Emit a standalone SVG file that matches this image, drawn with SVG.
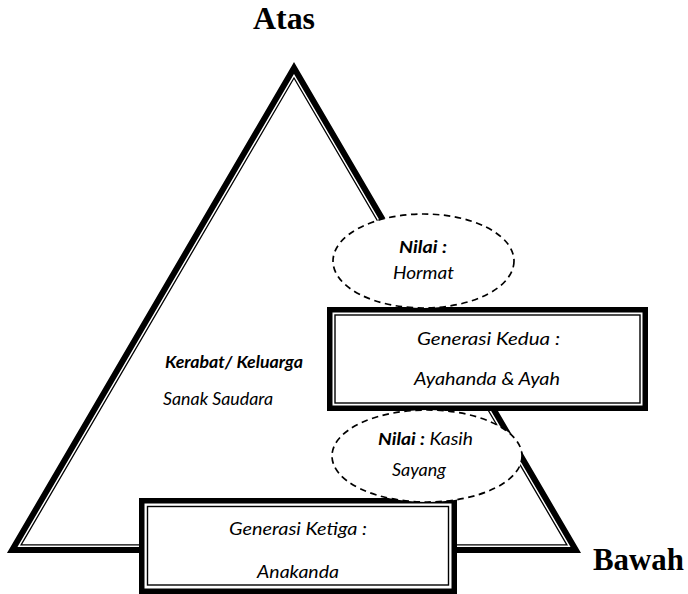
<svg xmlns="http://www.w3.org/2000/svg" width="688" height="594" viewBox="0 0 688 594">
<style>
.t{font-family:Lato,"Open Sans",sans-serif;font-style:italic;font-size:17.5px;fill:#000}
.b{font-weight:bold}
.h{font-family:"Liberation Serif","Times New Roman",serif;font-weight:bold;fill:#000}
.thick{fill:#fff;stroke:#000;stroke-width:6;stroke-linejoin:miter}
.thin{fill:none;stroke:#000;stroke-width:1.3}
.bx{fill:#fff;stroke:#000;stroke-width:5.5}
.bxi{fill:none;stroke:#000;stroke-width:1.4}
.el{fill:#fff;stroke:#000;stroke-width:1.7;stroke-dasharray:6.5 4.5}
</style>
<rect width="688" height="594" fill="#fff"/>
<g id="triangle">
<polygon class="thick" points="294,67.9 12.2,550 575.8,550"/>
<polygon class="thin" points="294,78 21.1,544.9 566.9,544.9"/>
</g>
<g id="connectors"></g>
<g id="label-atas"><text class="h" x="253" y="29" font-size="32" textLength="62" lengthAdjust="spacingAndGlyphs">Atas</text></g>
<g id="label-bawah"><text class="h" x="593" y="570" font-size="30.5" textLength="91" lengthAdjust="spacingAndGlyphs">Bawah</text></g>
<g id="kerabat">
<text class="t b" x="165" y="368" textLength="138" lengthAdjust="spacingAndGlyphs">Kerabat/ Keluarga</text>
<text class="t" x="163" y="405" textLength="110" lengthAdjust="spacingAndGlyphs">Sanak Saudara</text>
</g>
<g id="gen2">
<rect class="bx" x="329.75" y="309.75" width="315.5" height="98.5"/>
<rect class="bxi" x="335" y="315" width="305" height="88"/>
<text class="t" x="417" y="345" textLength="143" lengthAdjust="spacingAndGlyphs">Generasi Kedua :</text>
<text class="t" x="414" y="385" textLength="146" lengthAdjust="spacingAndGlyphs">Ayahanda &amp; Ayah</text>
</g>
<g id="gen3">
<rect class="bx" x="141.75" y="500.75" width="312.5" height="90.5"/>
<rect class="bxi" x="147.5" y="506.5" width="301" height="78.5"/>
<text class="t" x="229" y="535" textLength="138" lengthAdjust="spacingAndGlyphs">Generasi Ketiga :</text>
<text class="t" x="257" y="578" textLength="82" lengthAdjust="spacingAndGlyphs">Anakanda</text>
</g>
<g id="nilai-hormat">
<ellipse class="el" cx="423.5" cy="261" rx="90.5" ry="47"/>
<text class="t b" x="399" y="253" textLength="48" lengthAdjust="spacingAndGlyphs">Nilai :</text>
<text class="t" x="393" y="279" textLength="61" lengthAdjust="spacingAndGlyphs">Hormat</text>
</g>
<g id="nilai-kasih">
<ellipse class="el" cx="427" cy="456" rx="95" ry="46"/>
<text class="t" x="378" y="445" textLength="95" lengthAdjust="spacingAndGlyphs"><tspan class="b">Nilai :</tspan> Kasih</text>
<text class="t" x="392" y="476" textLength="54" lengthAdjust="spacingAndGlyphs">Sayang</text>
</g>
</svg>
